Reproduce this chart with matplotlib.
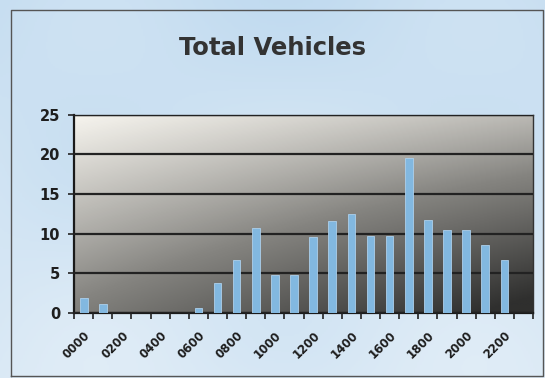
import numpy as np
import matplotlib
matplotlib.use("Agg")
import matplotlib.pyplot as plt
from matplotlib.colors import LinearSegmentedColormap

# Hourly vehicle counts
hours = [f"{h:02d}00" for h in range(24)]
vehicles = [1.8, 1.1, 0, 0, 0, 0, 0.6, 3.7, 6.7, 10.7, 4.7, 4.7,
            9.6, 11.6, 12.5, 9.7, 9.7, 19.5, 11.7, 10.5, 10.5, 8.6, 6.6, 0]
y_ticks = [0, 5, 10, 15, 20, 25]
title = "Total Vehicles"

fig = plt.figure(figsize=(5.45, 3.78), dpi=100)
fig.patch.set_facecolor("white")

# Light blue chart background with a thin frame
bg = fig.add_axes([0, 0, 1, 1], zorder=-10)
yy, xx = np.mgrid[0:1:200j, 0:1:300j]
shade = 0.55 + 0.35 * yy + 0.1 * np.sin(xx * 9) * np.cos(yy * 7)
bg_cmap = LinearSegmentedColormap.from_list("bgblue", ["#b9d6ee", "#e6f0f8"])
bg.imshow(shade, cmap=bg_cmap, extent=[0, 1, 0, 1], aspect="auto",
          vmin=0.3, vmax=1.1, origin="upper")
bg.plot([0.02, 0.02, 0.997, 0.997, 0.02], [0.005, 0.973, 0.973, 0.005, 0.005],
        color="#555555", lw=1.0, transform=bg.transAxes)
bg.set_xlim(0, 1)
bg.set_ylim(0, 1)
bg.axis("off")

ax = fig.add_axes([0.136, 0.173, 0.842, 0.523])

# Plot-area shading: light at the top left, darker toward bottom right
gy, gx = np.mgrid[0:1:200j, 0:1:300j]
tone = 1.0 - 0.45 * gy - 0.45 * gx * (0.5 + 0.5 * gy)
tone = np.clip(tone, 0, 1)
pa_cmap = LinearSegmentedColormap.from_list("plotarea", ["#2f2f2e", "#858480", "#f6f4ee"])
ax.imshow(tone, cmap=pa_cmap, extent=[-0.5, 23.5, 0, 25], aspect="auto",
          vmin=0.15, vmax=1.0, origin="upper", zorder=0)

x = np.arange(len(hours))
ax.bar(x, vehicles, width=0.4, color="#82b8e0", edgecolor="#add0ec",
       linewidth=0.6, zorder=3)

ax.set_xlim(-0.5, 23.5)
ax.set_ylim(0, 25)
ax.set_yticks(y_ticks)
ax.yaxis.grid(True, color="#222222", lw=1.6, zorder=2)
ax.set_axisbelow(False)

ax.set_xticks(x[::2])
ax.set_xticklabels(hours[::2], rotation=45, ha="right", rotation_mode="anchor",
                   fontsize=8.5, fontweight="bold", color="#1e1e1e",
                   family="DejaVu Sans")
ax.set_xticks(np.arange(-0.5, 24, 1), minor=True)
ax.tick_params(axis="x", which="major", length=0, pad=12)
ax.tick_params(axis="x", which="minor", length=4, width=1.2, color="#222222")
ax.tick_params(axis="y", length=4, width=1.2, color="#222222", pad=6,
               labelsize=10.5)
for lab in ax.get_yticklabels():
    lab.set_fontweight("bold")
    lab.set_color("#1e1e1e")

for side in ["top", "right"]:
    ax.spines[side].set_color("#333333")
    ax.spines[side].set_linewidth(1.0)
for side in ["left", "bottom"]:
    ax.spines[side].set_color("#1a1a1a")
    ax.spines[side].set_linewidth(1.6)

fig.text(0.5, 0.873, title, ha="center", va="center", fontsize=17.5,
         fontweight="bold", color="#333333", family="DejaVu Sans")

fig.savefig("out.png", dpi=100)
